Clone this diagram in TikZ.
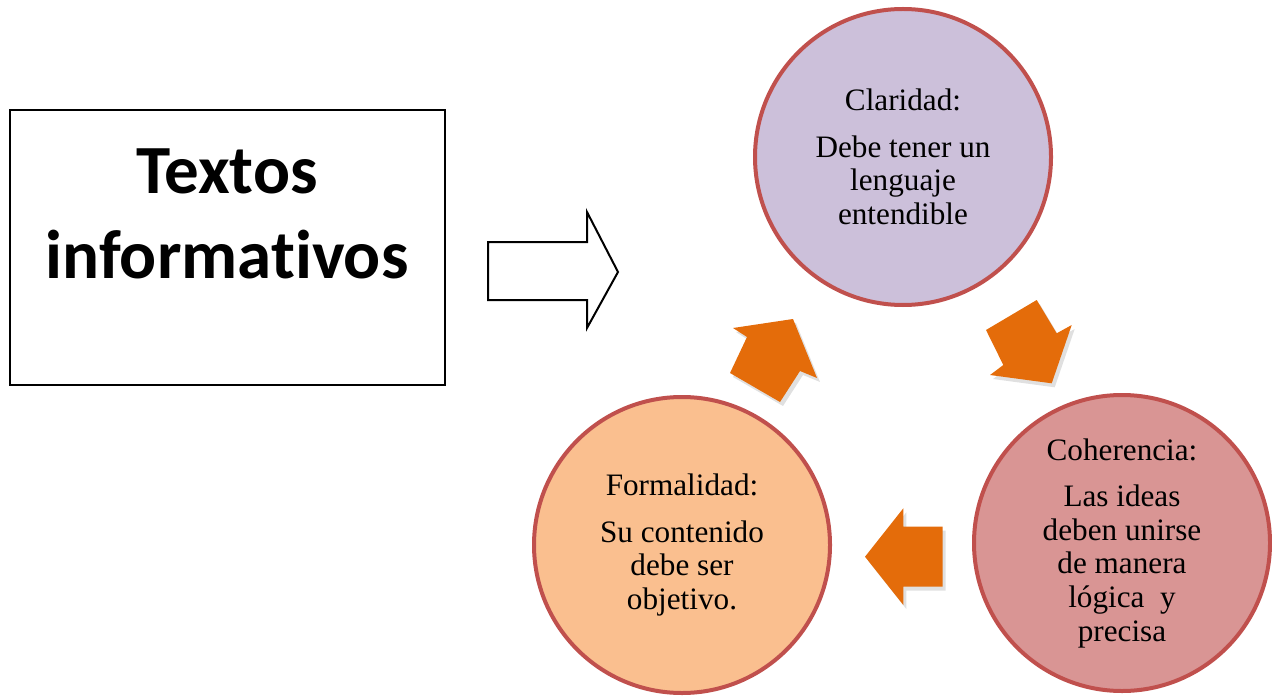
\documentclass[tikz,border=0pt]{standalone}
\usepackage{fontspec}
\setmainfont{Liberation Serif}
\newfontfamily\boxfont[Ligatures=NoCommon]{Carlito}
\definecolor{ringred}{HTML}{C0504D}
\definecolor{lav}{HTML}{CCC0DA}
\definecolor{pinkfill}{HTML}{D99594}
\definecolor{peach}{HTML}{FABF8F}
\definecolor{orng}{HTML}{E46C0A}
\begin{document}
\begin{tikzpicture}[x=0.5pt,y=-0.5pt,
  ring/.style={circle, draw=ringred, line width=2pt, minimum size=148pt, inner sep=0pt,
    align=center, font=\fontsize{15.6}{16.8}\selectfont},
  blockarrow/.style={fill=orng},
  shadowarrow/.style={fill=black, opacity=0.12},
  outlinearrow/.style={draw=black, line width=1pt, fill=white, line join=miter}]
\useasboundingbox (0,0) rectangle (1272,695);
% left box
\node[draw=black, line width=1pt, minimum width=217.5pt, minimum height=137.5pt, inner sep=0pt] (box) at (227.5,247.5) {};
\node[font=\boxfont\bfseries\fontsize{34.5}{42.5}\selectfont, align=center, anchor=north] (boxtext) at (227,142) {Textos\\informativos};
% outline arrow
\draw[outlinearrow] (488,242) -- (587,242) -- (587,212) -- (618,272) -- (587,328) -- (587,300) -- (488,300) -- cycle;
% circles
\node[ring, fill=lav] (cla) at (903,157) {Claridad:\\[6.5pt]Debe tener un\\lenguaje\\entendible};
\node[ring, fill=pinkfill] (coh) at (1122,543) {Coherencia:\\[6.5pt]Las ideas\\deben unirse\\de manera\\lógica\ \ y\\precisa};
\node[ring, fill=peach] (for) at (682,545) {Formalidad:\\[6.5pt]Su contenido\\debe ser\\objetivo.};
% orange block arrows (soft shadow, then fill)
\begin{scope}[shift={(3,4)}]
\fill[shadowarrow] (793,319) -- (817,378) -- (800,371) -- (780,402) -- (730,373) -- (747,337) -- (733,328) -- cycle;
\fill[shadowarrow] (1036.7,300) -- (1056.7,333.3) -- (1071.7,325) -- (1051.7,383.3) -- (990,375) -- (1003.3,365) -- (986,330) -- cycle;
\fill[shadowarrow] (865,556.7) -- (903.3,508.3) -- (903.3,526.7) -- (942.7,526.7) -- (942.7,586.7) -- (903.3,586.7) -- (903.3,605) -- cycle;
\end{scope}
\fill[blockarrow] (793,319) -- (817,378) -- (800,371) -- (780,402) -- (730,373) -- (747,337) -- (733,328) -- cycle;
\fill[blockarrow] (1036.7,300) -- (1056.7,333.3) -- (1071.7,325) -- (1051.7,383.3) -- (990,375) -- (1003.3,365) -- (986,330) -- cycle;
\fill[blockarrow] (865,556.7) -- (903.3,508.3) -- (903.3,526.7) -- (942.7,526.7) -- (942.7,586.7) -- (903.3,586.7) -- (903.3,605) -- cycle;
\end{tikzpicture}
\end{document}
